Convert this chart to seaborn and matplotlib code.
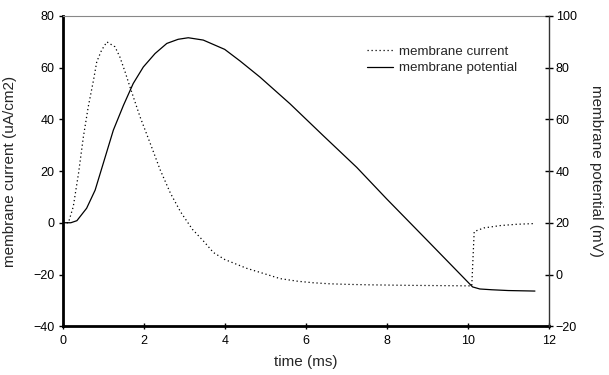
import numpy as np
import pandas as pd
import matplotlib
matplotlib.use('Agg')
import matplotlib.pyplot as plt
import seaborn as sns

# membrane current (left axis)
t_current = [0, 0.14, 0.26, 0.39, 0.51, 0.63, 0.76, 0.84, 0.96, 1.09, 1.29, 1.41, 1.54,
             1.66, 1.91, 2.16, 2.41, 2.66, 2.91, 3.2, 3.5, 3.72, 4.0, 4.54, 5.0, 5.37,
             5.8, 6.19, 6.6, 7.0, 7.6, 8.58, 9.4, 10.1, 10.16, 10.4, 10.8, 11.2, 11.66]
current = [0, 0, 6.2, 19.1, 33.2, 44.8, 55.1, 62.2, 66.7, 69.9, 68.0, 64.1, 58.3,
           52.5, 40.9, 30.7, 20.3, 11.4, 4.2, -2.5, -7.5, -11.5, -14.2, -17.6, -19.8, -21.6,
           -22.6, -23.2, -23.6, -23.8, -24.0, -24.2, -24.3, -24.4, -3.4, -2.0, -1.1, -0.6, -0.3]

# membrane potential (right axis)
t_potential = [0, 0.2, 0.35, 0.59, 0.80, 1.0, 1.25, 1.50, 1.74, 1.99, 2.28, 2.57, 2.85,
               3.1, 3.47, 4.0, 4.38, 4.87, 5.61, 6.43, 7.26, 8.0, 9.0, 10.12, 10.3,
               10.6, 11.0, 11.66]
potential = [20, 20, 20.8, 25.6, 32.6, 42.9, 55.8, 65.4, 73.8, 80.2, 85.4, 89.3, 90.9,
             91.5, 90.6, 87.0, 82.5, 76.3, 66.0, 53.7, 41.4, 29.2, 13.2, -4.8, -5.6,
             -5.9, -6.2, -6.4]

df_i = pd.DataFrame({'time': t_current, 'value': current})
df_v = pd.DataFrame({'time': t_potential, 'value': potential})

sns.set_style('white')
plt.rcParams['font.family'] = ['Liberation Sans', 'DejaVu Sans']

fig, ax = plt.subplots(figsize=(6.09, 3.75), dpi=100)
fig.subplots_adjust(left=0.103, right=0.901, top=0.958, bottom=0.13)
ax2 = ax.twinx()

sns.lineplot(data=df_i, x='time', y='value', ax=ax, color='black', linewidth=0.9,
             linestyle=(0, (1, 2.2)), sort=False, estimator=None, label='membrane current')
sns.lineplot(data=df_v, x='time', y='value', ax=ax2, color='black', linewidth=0.9,
             sort=False, estimator=None, label='membrane potential')

ax.set_xlim(0, 12)
ax.set_ylim(-40, 80)
ax2.set_ylim(-20, 100)
ax.set_xticks(np.arange(0, 13, 2))
ax.set_yticks(np.arange(-40, 81, 20))
ax2.set_yticks(np.arange(-20, 101, 20))

ax.set_xlabel('time (ms)', fontsize=11)
ax.set_ylabel('membrane current (uA/cm2)', fontsize=11)
ax2.set_ylabel('membrane potential (mV)', fontsize=11, rotation=270, va='center')
ax.yaxis.set_label_coords(-0.094, 0.5)
ax2.yaxis.set_label_coords(1.097, 0.5)
ax.xaxis.set_label_coords(0.5, -0.092)

# spines like the old spreadsheet chart
for s in ['left', 'bottom']:
    ax.spines[s].set_linewidth(2)
    ax.spines[s].set_color('black')
ax.spines['top'].set_color('#888888')
ax.spines['top'].set_linewidth(0.8)
ax.spines['right'].set_visible(False)
for s in ['left', 'bottom', 'top']:
    ax2.spines[s].set_visible(False)
ax2.spines['right'].set_color('#333333')
ax2.spines['right'].set_linewidth(1)

ax.tick_params(axis='y', direction='out', length=3, width=1, left=True, labelsize=9, pad=3, colors='black')
ax.tick_params(axis='x', direction='inout', length=5, width=1, bottom=True, labelsize=9, pad=4, colors='black')
ax2.tick_params(axis='y', direction='inout', length=6, width=1, right=True, labelsize=9, pad=2, colors='black')

h1, l1 = ax.get_legend_handles_labels()
h2, l2 = ax2.get_legend_handles_labels()
ax.get_legend().remove()
ax2.legend(h1 + h2, l1 + l2, loc='upper left', bbox_to_anchor=(0.602, 0.878),
           bbox_transform=fig.transFigure, frameon=False, fontsize=9.6,
           handlelength=2.0, handletextpad=0.4, labelspacing=0.3,
           borderpad=0, borderaxespad=0)

fig.savefig('out.png', dpi=100)
